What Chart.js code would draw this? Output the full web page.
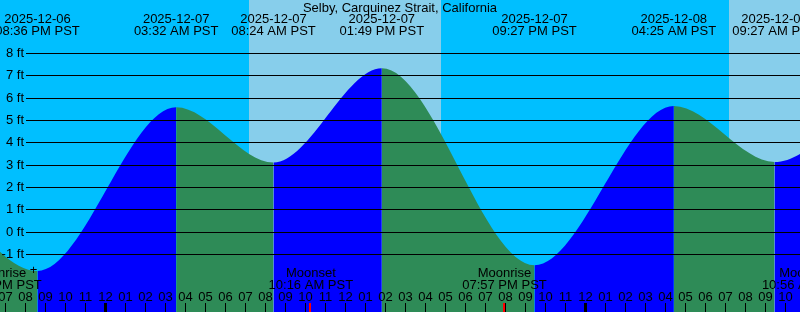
<!DOCTYPE html>
<html>
<head>
<meta charset="utf-8">
<script src="https://cdn.jsdelivr.net/npm/chart.js@4.4.0/dist/chart.umd.min.js"></script>
<style>
html, body { margin: 0; padding: 0; background: #00bfff; }
#wrap { width: 800px; height: 312px; position: relative; }
</style>
</head>
<body>
<div id="wrap"><canvas id="tideChart"></canvas></div>
<script>
// hours are counted from 2025-12-07 00:00 PST
const tideHours = [-10, -3.4, 3.533, 8.4, 13.817, 21.45, 28.417, 33.45, 39.0]
const tideFeet = [4.5, -1.73, 5.6, 3.12, 7.34, -1.48, 5.65, 3.15, 7.0]

const eventHours = [-3.4, 3.533, 8.4, 13.817, 21.45, 28.417, 33.45]
const eventDates = ['2025-12-06', '2025-12-07', '2025-12-07', '2025-12-07', '2025-12-07', '2025-12-08', '2025-12-08']
const eventTimes = ['08:36 PM PST', '03:32 AM PST', '08:24 AM PST', '01:49 PM PST', '09:27 PM PST', '04:25 AM PST', '09:27 AM PST']

const moonHours = [-5.3, 10.267, 19.95, 34.933]
const moonNames = ['Moonrise', 'Moonset', 'Moonrise', 'Moonset']
const moonTimes = ['06:42 PM PST', '10:16 AM PST', '07:57 PM PST', '10:56 AM PST']

const sunrise = [7.18, 31.19]
const sunset = [16.78, 40.78]

const feetTicks = [8, 7, 6, 5, 4, 3, 2, 1, 0, -1]

const TITLE = 'Selby, Carquinez Strait, California'
const NIGHT = '#00bfff'
const DAY = '#87ceeb'
const RISING = '#0000ff'
const FALLING = '#2e8b57'
const FONT = '13px "Liberation Sans", Arial, sans-serif'

const overlay = {
	id: 'overlay',
	beforeDraw(chart) {
		const { ctx, width, height } = chart
		const xs = chart.scales.x
		ctx.save()
		ctx.fillStyle = NIGHT
		ctx.fillRect(0, 0, width, height)
		ctx.fillStyle = DAY
		for (let i = 0; i < sunrise.length; i++) {
			const x0 = Math.round(xs.getPixelForValue(sunrise[i]))
			const x1 = Math.round(xs.getPixelForValue(sunset[i]))
			ctx.fillRect(x0, 0, x1 - x0, height)
		}
		ctx.restore()
	},
	afterDatasetsDraw(chart) {
		const { ctx, width, height } = chart
		const xs = chart.scales.x
		const ys = chart.scales.y
		ctx.save()
		ctx.font = FONT
		ctx.fillStyle = '#000'
		ctx.strokeStyle = '#000'
		ctx.lineWidth = 1
		ctx.textBaseline = 'middle'

		// feet lines
		feetTicks.forEach(v => {
			const y = Math.floor(ys.getPixelForValue(v)) + 0.5
			ctx.beginPath()
			ctx.moveTo(26, y)
			ctx.lineTo(width, y)
			ctx.stroke()
			ctx.textAlign = 'right'
			ctx.fillText(v + ' ft', 24, y)
		})

		// title
		ctx.textAlign = 'center'
		ctx.fillText(TITLE, width / 2, 8)

		// tide events
		eventHours.forEach((h, i) => {
			const x = xs.getPixelForValue(h)
			ctx.fillText(eventDates[i], x, 19)
			ctx.fillText(eventTimes[i], x, 31)
		})

		// moon events
		moonHours.forEach((h, i) => {
			const x = xs.getPixelForValue(h)
			ctx.fillText(moonNames[i], x, 273)
			ctx.fillText(moonTimes[i], x, 285)
			ctx.fillStyle = '#ff0000'
			ctx.fillRect(Math.floor(x) - 1, 303, 2, height - 303)
			ctx.fillStyle = '#000'
		})
		ctx.fillText('+', xs.getPixelForValue(-3.6), 270)

		// hour ticks
		for (let h = Math.ceil(xs.min); h <= Math.floor(xs.max); h++) {
			const x = xs.getPixelForValue(h)
			const hd = ((h % 24) + 24) % 24
			const label = String(hd % 12 || 12).padStart(2, '0')
			ctx.fillText(label, x, 297)
			if (hd === 0) {
				ctx.fillRect(Math.floor(x) - 1, 303, 3, height - 303)
			} else {
				ctx.fillRect(Math.floor(x), 303, 1, height - 303)
			}
		}
		ctx.restore()
	}
}

const points = tideHours.map((h, i) => ({ x: h, y: tideFeet[i] }))

new Chart(document.getElementById('tideChart').getContext('2d'), {
	type: 'line',
	data: {
		datasets: [
			{
				data: points,
				fill: 'start',
				backgroundColor: FALLING,
				borderWidth: 0,
				borderColor: 'rgba(0,0,0,0)',
				pointRadius: 0,
				cubicInterpolationMode: 'monotone',
				segment: {
					backgroundColor: c => (c.p1.parsed.y > c.p0.parsed.y ? RISING : FALLING),
				},
			},
		],
	},
	options: {
		animation: false,
		responsive: true,
		maintainAspectRatio: false,
		layout: { padding: 0 },
		scales: {
			x: { type: 'linear', min: -5.275, max: 34.725, display: false },
			y: { min: -3.57, max: 10.4, display: false },
		},
		plugins: {
			legend: { display: false },
			tooltip: { enabled: false },
		},
	},
	plugins: [overlay],
})
</script>
</body>
</html>
